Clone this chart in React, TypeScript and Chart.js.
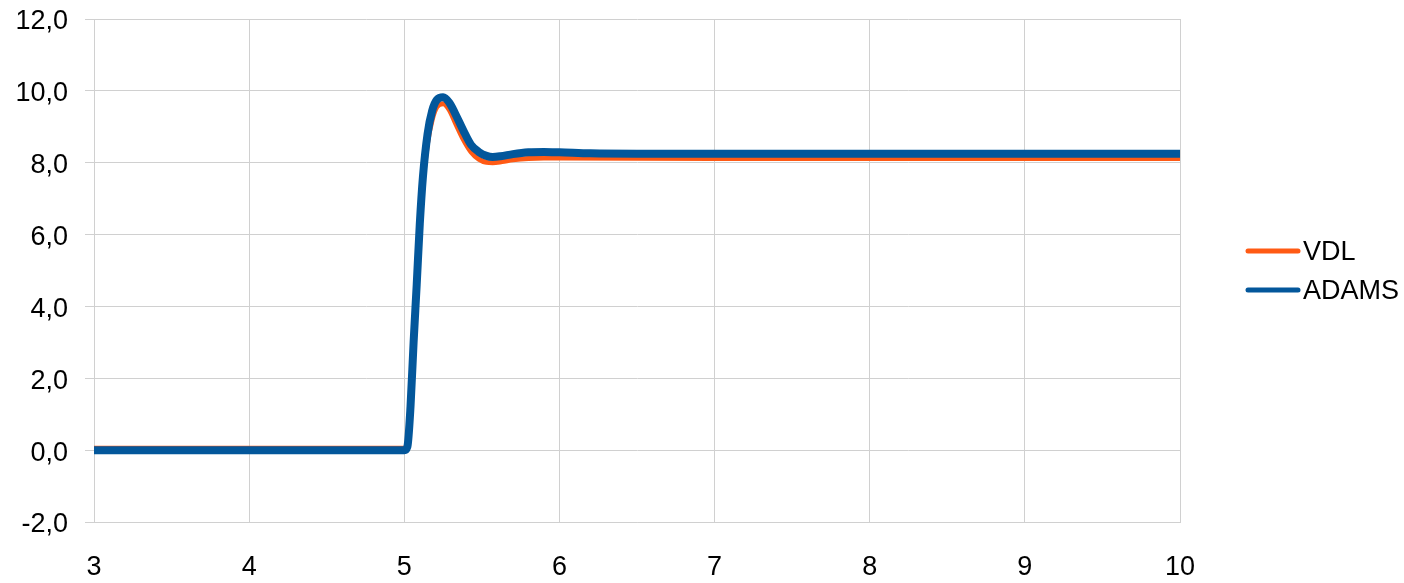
import React, { useEffect, useRef } from "react";
import { Chart, registerables } from "chart.js";

Chart.register(...registerables);

// Step response: time (s) and response for the two models
const timeVDL = [3, 5.0, 5.02, 5.04, 5.06, 5.08, 5.1, 5.12, 5.15, 5.18, 5.21, 5.25, 5.29, 5.33, 5.38, 5.43, 5.48, 5.53, 5.57, 5.63, 5.7, 5.8, 5.9, 6.0, 7.0, 10];
const valuesVDL = [0.05, 0.05, 0.1, 1.1, 2.9, 4.5, 6.1, 7.4, 8.55, 9.2, 9.55, 9.64, 9.47, 9.1, 8.65, 8.3, 8.1, 8.01, 8.0, 8.03, 8.08, 8.12, 8.13, 8.13, 8.12, 8.12];

const timeADAMS = [3, 5.0, 5.02, 5.04, 5.06, 5.08, 5.1, 5.12, 5.15, 5.18, 5.21, 5.25, 5.29, 5.33, 5.38, 5.43, 5.48, 5.53, 5.57, 5.62, 5.7, 5.8, 5.9, 6.0, 6.2, 6.5, 10];
const valuesADAMS = [0, 0, 0.1, 1.2, 3.0, 4.6, 6.3, 7.6, 8.8, 9.45, 9.75, 9.82, 9.67, 9.35, 8.9, 8.5, 8.3, 8.19, 8.16, 8.18, 8.24, 8.29, 8.3, 8.29, 8.26, 8.25, 8.25];

const seriesNames = ["VDL", "ADAMS"];
const seriesColors = ["#ff5a14", "#03579b"];
const seriesWidths = [5, 8];

const xMin = 3;
const xMax = 10;
const xStep = 1;
const yMin = -2;
const yMax = 12;
const yStep = 2;

const FONT = '"Liberation Sans", Arial, sans-serif';
const GRID = "#d0d0d0";

const toPoints = (xs: number[], ys: number[]) => xs.map((x, i) => ({ x, y: ys[i] }));

// Legend drawn to the right of the plot: short round-capped line + label
const sideLegend = {
  id: "sideLegend",
  afterDraw(chart: any) {
    const { ctx, chartArea } = chart;
    const mid = (chartArea.top + chartArea.bottom) / 2;
    const gap = 39;
    const x0 = chartArea.right + 68;
    const x1 = x0 + 50;
    ctx.save();
    seriesNames.forEach((name, i) => {
      const y = mid - gap / 2 + i * gap;
      ctx.strokeStyle = seriesColors[i];
      ctx.lineWidth = 5;
      ctx.lineCap = "round";
      ctx.beginPath();
      ctx.moveTo(x0, y);
      ctx.lineTo(x1, y);
      ctx.stroke();
      ctx.fillStyle = "#000";
      ctx.font = `27px ${FONT}`;
      ctx.textAlign = "left";
      ctx.textBaseline = "middle";
      ctx.fillText(name, x1 + 5, y + 2);
    });
    ctx.restore();
  },
};

export default function App() {
  const canvasRef = useRef<HTMLCanvasElement | null>(null);

  useEffect(() => {
    const canvas = canvasRef.current;
    if (!canvas) return;
    const chart = new Chart(canvas, {
      type: "scatter",
      data: {
        datasets: [
          {
            label: seriesNames[0],
            data: toPoints(timeVDL, valuesVDL),
            borderColor: seriesColors[0],
            backgroundColor: seriesColors[0],
            borderWidth: seriesWidths[0],
            showLine: true,
            pointRadius: 0,
            cubicInterpolationMode: "monotone",
            borderCapStyle: "round",
            borderJoinStyle: "round",
            order: 2,
          },
          {
            label: seriesNames[1],
            data: toPoints(timeADAMS, valuesADAMS),
            borderColor: seriesColors[1],
            backgroundColor: seriesColors[1],
            borderWidth: seriesWidths[1],
            showLine: true,
            pointRadius: 0,
            cubicInterpolationMode: "monotone",
            borderCapStyle: "round",
            borderJoinStyle: "round",
            order: 1,
          },
        ],
      },
      options: {
        responsive: false,
        animation: false,
        layout: { padding: { top: 19, right: 224, left: 0, bottom: 0 } },
        plugins: {
          legend: { display: false },
          tooltip: { enabled: false },
        },
        scales: {
          x: {
            type: "linear",
            min: xMin,
            max: xMax,
            ticks: {
              stepSize: xStep,
              color: "#000",
              font: { family: FONT, size: 27 },
              padding: 29,
              maxRotation: 0,
            },
            grid: { color: GRID, lineWidth: 1, drawTicks: false },
            border: { color: GRID, width: 1 },
            afterFit: (scale: any) => {
              scale.height = 61;
              scale.paddingLeft = 0;
              scale.paddingRight = 0;
            },
          },
          y: {
            type: "linear",
            min: yMin,
            max: yMax,
            ticks: {
              stepSize: yStep,
              color: "#000",
              font: { family: FONT, size: 27 },
              padding: 17,
              labelOffset: 3,
              callback: (v: any) => Number(v).toFixed(1).replace(".", ","),
            },
            grid: { color: GRID, lineWidth: 1, tickLength: 9 },
            border: { color: GRID, width: 1 },
            afterFit: (scale: any) => {
              scale.width = 94;
              scale.paddingTop = 0;
              scale.paddingBottom = 0;
            },
          },
        },
      },
      plugins: [sideLegend],
    });
    return () => chart.destroy();
  }, []);

  return (
    <div style={{ position: "absolute", left: 0, top: 0, width: 1404, height: 583, background: "#fff" }}>
      <canvas ref={canvasRef} width={1404} height={583} style={{ display: "block" }} />
    </div>
  );
}
